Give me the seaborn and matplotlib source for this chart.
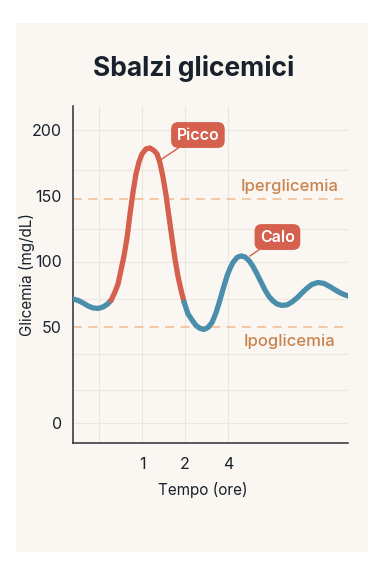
import numpy as np
import pandas as pd
import matplotlib
matplotlib.use("Agg")
import matplotlib.pyplot as plt
import seaborn as sns
from matplotlib.patches import Rectangle

# curve (x in tick-slot units, glucose in mg/dL)
t_pos = [-0.605, -0.488, -0.372, -0.256, -0.140, -0.023, 0.093, 0.186, 0.279, 0.372,
         0.442, 0.512, 0.581, 0.651, 0.721, 0.791, 0.860, 0.930, 1.000, 1.093,
         1.186, 1.279, 1.349, 1.419, 1.488, 1.558, 1.628, 1.698, 1.767, 1.837,
         1.907, 1.977, 2.070, 2.163, 2.256, 2.349, 2.442, 2.535, 2.628, 2.721,
         2.814, 2.907, 2.977, 3.047, 3.116, 3.209, 3.302, 3.395, 3.488, 3.581,
         3.674, 3.767, 3.860, 3.953, 4.047, 4.140, 4.256, 4.372, 4.488, 4.605,
         4.721, 4.837, 4.953, 5.093, 5.233, 5.372, 5.488, 5.605, 5.698, 5.791]
glucose = [71.3, 70.2, 68.3, 66.0, 64.5, 64.1, 65.2, 67.1, 70.2, 76.7,
           82.7, 93.4, 104.1, 117.8, 136.1, 152.8, 166.5, 175.7, 181.8, 185.6,
           186.3, 184.4, 181.8, 174.9, 164.2, 150.5, 133.8, 117.4, 101.8, 88.5,
           78.2, 69.0, 59.9, 55.3, 51.1, 48.9, 48.1, 49.6, 53.4, 60.7,
           70.6, 81.2, 88.8, 94.6, 99.1, 102.9, 104.1, 103.3, 100.6, 96.1,
           90.4, 84.3, 78.2, 73.2, 69.8, 67.5, 66.4, 66.8, 69.0, 72.1,
           75.9, 79.5, 82.4, 83.9, 83.1, 80.7, 78.3, 76.1, 74.7, 73.6]
spike_start, spike_end = 8, 31  # indices where the red stretch begins / ends

x_tick_pos = [1, 2, 3]
x_tick_labels = ["1", "2", "4"]
y_tick_pos = [-23, 50, 100, 150, 200]
y_tick_labels = ["0", "50", "100", "150", "200"]

hyper_level = 147.5
hypo_level = 50

RED = "#d5604d"
BLUE = "#4a8eac"
DASH = "#f3c39b"
LABEL_ORANGE = "#c9834f"
DARK = "#18212c"
GRID = "#ebe6df"
PANEL = "#faf7f2"

# build segments (boundary points shared so the line stays continuous)
rows = []
for i, (t, g) in enumerate(zip(t_pos, glucose)):
    if i <= spike_start:
        rows.append((t, g, "pre"))
    if spike_start <= i <= spike_end:
        rows.append((t, g, "spike"))
    if i >= spike_end:
        rows.append((t, g, "post"))
df = pd.DataFrame(rows, columns=["tempo", "glicemia", "fase"])

sns.set_theme(style="white")
plt.rcParams["font.family"] = ["Inter", "DejaVu Sans"]

fig = plt.figure(figsize=(3.84, 5.76), dpi=100, facecolor="white")
fig.patches.append(Rectangle((16 / 384, 1 - 552 / 576), 352 / 384, 529 / 576,
                             transform=fig.transFigure, facecolor=PANEL,
                             edgecolor="none", zorder=-10))

ax = fig.add_axes([73 / 384, 1 - 443 / 576, 275 / 384, 337 / 576])
ax.set_facecolor(PANEL)
ax.set_zorder(1)

sns.lineplot(data=df, x="tempo", y="glicemia", hue="fase", sort=False,
             palette={"pre": BLUE, "spike": RED, "post": BLUE},
             linewidth=3.8, legend=False, ax=ax, zorder=4,
             solid_capstyle="round", solid_joinstyle="round")

ax.axhline(hyper_level, color=DASH, lw=1.3, ls=(0, (5, 3.5)), zorder=2)
ax.axhline(hypo_level, color=DASH, lw=1.3, ls=(0, (5, 3.5)), zorder=2)
ax.text(4.43, 157, "Iperglicemia", color=LABEL_ORANGE, fontsize=12,
        fontweight="medium", ha="center", va="center")
ax.text(4.43, 39.0, "Ipoglicemia", color=LABEL_ORANGE, fontsize=12,
        fontweight="medium", ha="center", va="center")

box = dict(boxstyle="round,pad=0.34,rounding_size=0.45", fc=RED, ec="none")
ax.annotate("Picco", xy=(1.42, 177), xytext=(2.30, 196.2), color="white",
            fontsize=11.5, fontweight="semibold", ha="center", va="center",
            bbox=box, zorder=6,
            arrowprops=dict(arrowstyle="-", color=RED, lw=1.0, shrinkA=0, shrinkB=0))
ax.annotate("Calo", xy=(3.51, 104), xytext=(4.15, 118.5), color="white",
            fontsize=11.5, fontweight="semibold", ha="center", va="center",
            bbox=box, zorder=6,
            arrowprops=dict(arrowstyle="-", color=RED, lw=1.0, shrinkA=0, shrinkB=0))

ax.set_xlim(-0.605, 5.791)
ax.set_ylim(-38.4, 218.3)

ax.xaxis.remove_overlapping_locs = False
ax.yaxis.remove_overlapping_locs = False
ax.set_xticks(x_tick_pos)
ax.set_xticklabels(x_tick_labels)
ax.set_xticks([0, 1, 2, 3], minor=True)
ax.set_yticks(y_tick_pos)
ax.set_yticklabels(y_tick_labels)
ax.set_yticks([200, 169.6, 124.6, 99.5, 71.3, 29.4, 2.0, -23.1], minor=True)
ax.grid(False)
ax.grid(which="minor", color=GRID, lw=0.8, zorder=0)
ax.set_axisbelow(True)
ax.tick_params(which="both", length=0)
ax.tick_params(axis="x", pad=10, labelsize=11.5, colors=DARK)
ax.tick_params(axis="y", pad=8, labelsize=11.5, colors=DARK)

for side in ["top", "right"]:
    ax.spines[side].set_visible(False)
for side in ["left", "bottom"]:
    ax.spines[side].set_color("#2a2f36")
    ax.spines[side].set_linewidth(1.1)

ax.set_xlabel("Tempo (ore)", fontsize=11, color=DARK)
ax.set_ylabel("Glicemia (mg/dL)", fontsize=11, color=DARK)
ax.xaxis.set_label_coords(0.473, -0.115)
ax.yaxis.set_label_coords(-0.138, 0.5)

fig.text(194 / 384, 1 - 68 / 576, "Sbalzi glicemici", fontsize=19,
         fontweight="bold", color=DARK, ha="center", va="center")

fig.savefig("out.png", dpi=100, facecolor="white")
